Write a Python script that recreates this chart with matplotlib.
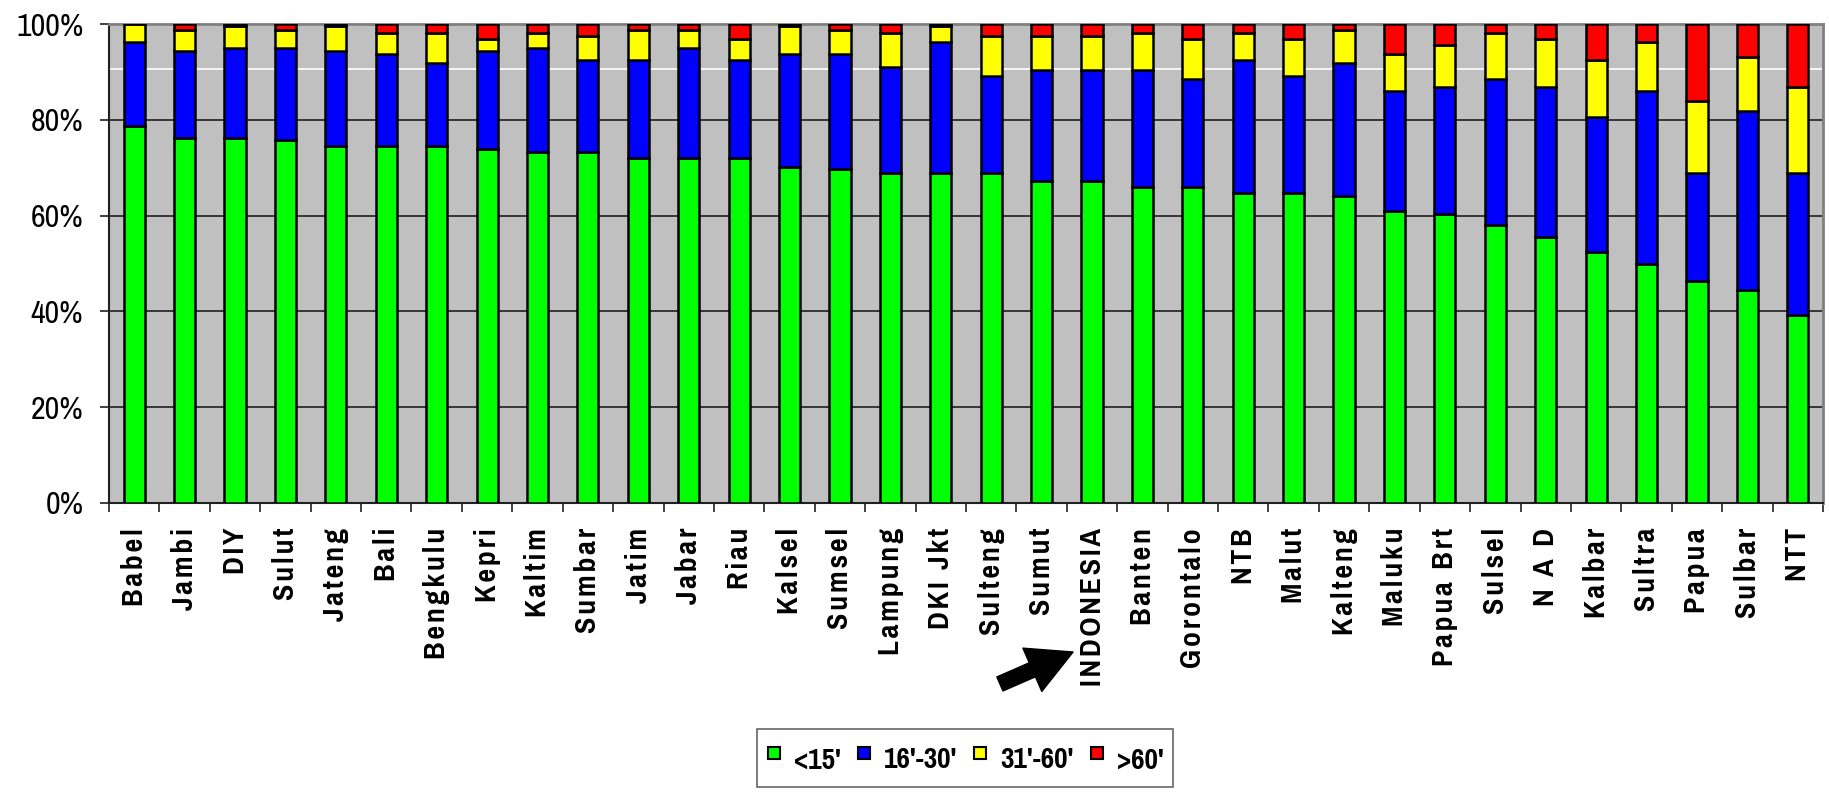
import matplotlib as mpl
mpl.use('Agg')
import matplotlib.pyplot as plt
from matplotlib import font_manager
from matplotlib.lines import Line2D
from matplotlib.patches import FancyArrowPatch
import numpy as np

provinces = ['Babel', 'Jambi', 'DIY', 'Sulut', 'Jateng', 'Bali', 'Bengkulu', 'Kepri',
             'Kaltim', 'Sumbar', 'Jatim', 'Jabar', 'Riau', 'Kalsel', 'Sumsel', 'Lampung',
             'DKI Jkt', 'Sulteng', 'Sumut', 'INDONESIA', 'Banten', 'Gorontalo', 'NTB',
             'Malut', 'Kalteng', 'Maluku', 'Papua Brt', 'Sulsel', 'N A D', 'Kalbar',
             'Sultra', 'Papua', 'Sulbar', 'NTT']

# share of households (%) by travel time
lt15 = [78.8, 76.3, 76.3, 75.7, 74.5, 74.5, 74.5, 73.9, 73.2, 73.2, 72.1, 72.1, 72.1,
        70.2, 69.7, 69.0, 69.0, 69.0, 67.2, 67.2, 65.9, 65.9, 64.7, 64.7, 64.1, 61.0,
        60.4, 58.0, 55.6, 52.4, 49.9, 46.3, 44.4, 39.3]
m16_30 = [17.4, 18.0, 18.6, 19.2, 19.8, 19.2, 17.3, 20.4, 21.7, 19.2, 20.3, 22.8, 20.3,
          23.5, 24.0, 22.1, 27.2, 20.2, 23.3, 23.3, 24.6, 22.7, 27.7, 24.5, 27.7, 25.1,
          26.4, 30.6, 31.2, 28.1, 36.2, 22.7, 37.4, 29.7]
m31_60 = [3.8, 4.4, 4.7, 3.8, 5.3, 4.4, 6.3, 2.5, 3.2, 5.1, 6.3, 3.8, 4.4, 5.9, 5.0, 7.0,
          3.4, 8.3, 7.0, 7.0, 7.6, 8.2, 5.7, 7.6, 6.9, 7.6, 8.8, 9.5, 10.0, 11.9, 10.1,
          14.9, 11.4, 17.8]
gt60 = [0.0, 1.3, 0.4, 1.3, 0.4, 1.9, 1.9, 3.2, 1.9, 2.5, 1.3, 1.3, 3.2, 0.4, 1.3, 1.9,
        0.4, 2.5, 2.5, 2.5, 1.9, 3.2, 1.9, 3.2, 1.3, 6.3, 4.4, 1.9, 3.2, 7.6, 3.8, 16.1,
        6.8, 13.2]

series = ["<15'", "16'-30'", "31'-60'", ">60'"]
colors = ['#00ff00', '#0000ff', '#ffff00', '#ff0000']


def pick_font(candidates, bold=False):
    # first narrow family that is installed (with a real bold face if needed)
    for name in candidates:
        faces = [f for f in font_manager.fontManager.ttflist if f.name == name]
        if faces and (not bold or any(f.weight in ('bold', 700) or
                                      (isinstance(f.weight, int) and f.weight >= 600)
                                      for f in faces)):
            return name
    return 'Liberation Sans'


narrow = ['Pragati Narrow', 'PT Sans Narrow', 'Fira Sans Condensed',
          'IBM Plex Sans Condensed', 'Archivo Narrow']
bold_font = [pick_font(narrow, bold=True), 'Liberation Sans', 'DejaVu Sans']
regular_font = [pick_font(narrow), 'Liberation Sans', 'DejaVu Sans']

fig = plt.figure(figsize=(18.29, 7.93), dpi=100)
ax = fig.add_axes([0.0596, 0.3657, 0.9371, 0.604])
ax.set_facecolor('#c0c0c0')

x = np.arange(len(provinces))
bottom = np.zeros(len(provinces))
for vals, col, name in zip([lt15, m16_30, m31_60, gt60], colors, series):
    ax.bar(x, vals, width=0.42, bottom=bottom, color=col, edgecolor='black',
           linewidth=1.8, label=name, zorder=3)
    bottom += np.array(vals)

ax.set_xlim(-0.5, len(provinces) - 0.5)
ax.set_ylim(0, 100)

# grid lines
for gy in [20, 40, 60, 80]:
    ax.axhline(gy, color='#202020', lw=1.2, zorder=1)
ax.axhline(90.7, color='white', lw=1.2, zorder=1)

ax.set_yticks([0, 20, 40, 60, 80, 100])
ax.set_yticklabels(['%d%%' % v for v in [0, 20, 40, 60, 80, 100]],
                   family=regular_font, fontsize=25)
ax.tick_params(axis='y', length=6.5, width=1.2, pad=12, color='#202020')

# letter-spaced, bold category names
ax.set_xticks(x)
ax.set_xticklabels(['\u200a'.join(p) for p in provinces], rotation=90, va='top',
                   family=bold_font, fontweight='bold', fontsize=23.5)
ax.tick_params(axis='x', which='major', length=0, pad=18)
ax.set_xticks(np.arange(len(provinces) + 1) - 0.5, minor=True)
ax.tick_params(axis='x', which='minor', length=6.5, width=1.2, color='#202020')

for side in ['left', 'bottom']:
    ax.spines[side].set_color('#202020')
    ax.spines[side].set_linewidth(1.5)
for side in ['top', 'right']:
    ax.spines[side].set_color('#808080')
    ax.spines[side].set_linewidth(2)

# arrow pointing at the national value
arrow = FancyArrowPatch((0.5467, 0.1375), (0.5867, 0.1778), transform=fig.transFigure,
                        arrowstyle='simple,head_length=3.2,head_width=3.4,tail_width=1.1',
                        mutation_scale=10, color='black', shrinkA=0, shrinkB=0)
fig.add_artist(arrow)

handles = [Line2D([], [], marker='s', linestyle='none', markersize=9,
                  markerfacecolor=c, markeredgecolor='black', markeredgewidth=1.5)
           for c in colors]
leg = fig.legend(handles, series, loc='upper center', bbox_to_anchor=(0.5276, 0.081),
                 ncol=4, frameon=True, fancybox=False, borderpad=0.3, borderaxespad=0,
                 handlelength=0.45, handleheight=1.5, handletextpad=0.4,
                 columnspacing=0.5,
                 prop={'family': bold_font, 'weight': 'bold', 'size': 23})
leg.get_frame().set_edgecolor('#404040')
leg.get_frame().set_linewidth(1.2)

fig.savefig('out.png', dpi=100)
